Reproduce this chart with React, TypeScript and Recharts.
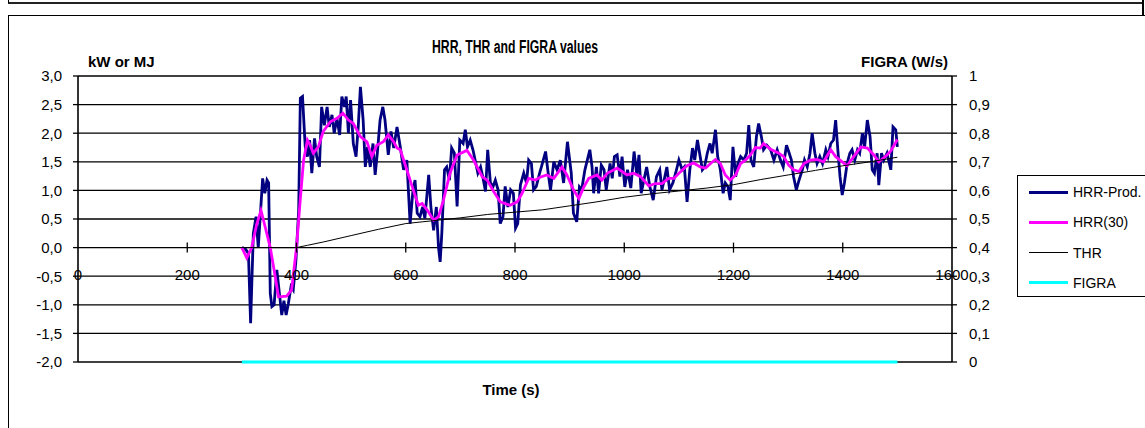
import React from 'react';
import { LineChart, Line, XAxis, YAxis, CartesianGrid } from 'recharts';

// ---------- data ----------
const hrrProd: [number, number][] = [
  [300, 0], [306, -0.02], [312, -0.1], [316, -1.32], [321, 0.25], [326, 0.54], [330, 0.0], [334, 0.6], [338, 1.21],
  [342, 0.95], [346, 1.18], [349, 1.13], [352, -0.8], [355, -1.03], [359, -1.0], [364, -0.39], [368, -0.74], [373, -1.18],
  [377, -0.93], [381, -1.18], [385, -0.98], [390, -0.68], [394, -0.74], [399, -0.22], [404, 0.66], [407, 2.61], [411, 2.64],
  [416, 1.76], [420, 1.59], [424, 1.88], [428, 1.3], [433, 1.91], [437, 1.59], [442, 1.41], [446, 2.46], [451, 2.14],
  [456, 2.46], [460, 2.11], [465, 2.32], [469, 2.0], [474, 2.26], [479, 1.97], [483, 2.64], [488, 2.46], [491, 2.64],
  [495, 2.0], [499, 2.58], [504, 1.82], [509, 1.59], [513, 2.11], [517, 2.81], [522, 2.23], [526, 1.41], [530, 1.76],
  [535, 1.41], [540, 1.82], [544, 1.27], [548, 1.65], [553, 2.23], [558, 2.46], [562, 2.23], [568, 1.62], [573, 2.03],
  [578, 1.74], [584, 2.11], [590, 1.76], [596, 1.36], [602, 1.53], [608, 0.42], [613, 0.98], [617, 1.18], [621, 0.6],
  [626, 0.54], [631, 0.71], [635, 0.51], [642, 1.27], [646, 0.71], [651, 0.3], [656, 0.71], [660, 0.0], [663, -0.25],
  [666, 0.25], [671, 1.36], [675, 1.41], [680, 1.18], [684, 1.74], [689, 1.65], [694, 0.72], [699, 1.88], [705, 1.82],
  [709, 2.06], [713, 1.76], [718, 1.88], [723, 1.71], [727, 1.53], [732, 1.3], [737, 1.41], [741, 1.24], [746, 0.98],
  [750, 1.71], [755, 1.13], [760, 1.07], [764, 1.18], [769, 1.01], [773, 0.42], [778, 0.54], [782, 1.07], [787, 0.71],
  [792, 1.01], [797, 0.95], [801, 0.34], [805, 0.42], [810, 1.1], [816, 1.3], [821, 1.13], [825, 1.53], [830, 1.47],
  [834, 1.01], [839, 1.07], [845, 1.3], [850, 1.47], [856, 1.68], [860, 1.36], [865, 1.0], [871, 1.5], [877, 1.36],
  [883, 1.53], [889, 1.13], [896, 1.85], [903, 1.3], [907, 0.6], [913, 0.45], [918, 1.06], [922, 1.01], [928, 1.36],
  [937, 1.71], [941, 1.41], [944, 0.95], [949, 1.41], [953, 0.95], [958, 1.44], [963, 1.36], [967, 1.01], [974, 1.47],
  [978, 1.21], [982, 1.59], [987, 1.62], [992, 1.24], [996, 1.59], [1001, 1.06], [1006, 1.36], [1012, 1.04], [1018, 1.68],
  [1023, 1.27], [1027, 1.62], [1031, 0.95], [1036, 1.18], [1041, 1.41], [1047, 1.06], [1053, 0.83], [1059, 1.24],
  [1065, 1.36], [1069, 1.01], [1073, 1.18], [1078, 1.41], [1083, 1.01], [1089, 1.13], [1094, 1.3], [1100, 1.53],
  [1106, 1.36], [1110, 1.41], [1115, 0.8], [1120, 1.36], [1125, 1.74], [1129, 1.53], [1134, 1.88], [1138, 1.65],
  [1143, 1.36], [1147, 1.41], [1152, 1.65], [1157, 1.82], [1161, 1.65], [1167, 2.06], [1171, 1.59], [1176, 1.36],
  [1181, 0.95], [1185, 1.13], [1190, 1.06], [1194, 0.83], [1199, 1.76], [1204, 1.24], [1208, 1.47], [1213, 1.59],
  [1219, 1.53], [1224, 1.65], [1228, 2.14], [1232, 1.53], [1237, 1.41], [1242, 1.94], [1246, 2.17], [1251, 1.94],
  [1255, 1.71], [1261, 1.79], [1268, 1.71], [1274, 1.53], [1280, 1.71], [1286, 1.53], [1291, 1.41], [1297, 1.79],
  [1301, 1.68], [1306, 1.53], [1310, 1.24], [1315, 1.01], [1320, 1.18], [1326, 1.36], [1330, 1.53], [1335, 1.41],
  [1340, 1.65], [1344, 2.0], [1349, 1.65], [1353, 1.47], [1358, 1.59], [1363, 1.47], [1369, 1.71], [1373, 1.59],
  [1378, 1.82], [1383, 1.88], [1387, 2.23], [1391, 1.71], [1395, 1.24], [1399, 0.92], [1403, 1.13], [1408, 1.47],
  [1413, 1.65], [1417, 1.71], [1422, 1.53], [1427, 1.71], [1431, 1.65], [1436, 2.0], [1440, 1.76], [1445, 2.23],
  [1450, 1.94], [1454, 1.36], [1458, 1.3], [1463, 1.65], [1466, 1.09], [1471, 1.65], [1475, 1.53], [1481, 1.65],
  [1488, 1.36], [1492, 2.11], [1497, 2.06], [1500, 1.76],
];

const hrr30: [number, number][] = [
  [300, 0], [309, -0.18], [318, 0.0], [327, 0.4], [335, 0.65], [343, 0.35], [352, 0.0], [360, -0.45], [367, -0.86],
  [382, -0.85], [391, -0.74], [400, 0.0], [407, 0.85], [413, 1.53], [420, 1.88], [425, 1.79], [431, 1.65], [440, 1.76],
  [449, 2.03], [462, 2.2], [474, 2.26], [485, 2.35], [495, 2.23], [504, 2.17], [517, 1.94], [529, 1.85], [538, 1.59],
  [547, 1.79], [559, 1.85], [568, 1.97], [578, 1.85], [584, 1.74], [590, 1.71], [602, 1.36], [614, 1.0], [623, 0.74],
  [630, 0.77], [639, 0.66], [651, 0.48], [660, 0.54], [669, 0.83], [681, 1.3], [694, 1.62], [712, 1.7], [724, 1.53],
  [740, 1.24], [749, 1.18], [761, 0.98], [773, 0.8], [791, 0.74], [804, 0.8], [813, 0.95], [825, 1.21], [837, 1.18],
  [846, 1.23], [858, 1.27], [871, 1.21], [886, 1.41], [895, 1.27], [907, 1.01], [917, 0.86], [926, 1.06], [935, 1.21],
  [950, 1.27], [959, 1.18], [969, 1.3], [987, 1.39], [1005, 1.27], [1017, 1.3], [1030, 1.24], [1045, 1.08], [1057, 1.12],
  [1069, 1.12], [1081, 1.21], [1091, 1.21], [1100, 1.3], [1115, 1.43], [1127, 1.48], [1139, 1.41], [1149, 1.39],
  [1158, 1.47], [1167, 1.54], [1176, 1.47], [1185, 1.27], [1194, 1.18], [1204, 1.27], [1213, 1.47], [1222, 1.53],
  [1231, 1.62], [1240, 1.75], [1249, 1.74], [1255, 1.82], [1268, 1.72], [1283, 1.65], [1292, 1.59], [1301, 1.44],
  [1310, 1.36], [1320, 1.33], [1329, 1.47], [1341, 1.53], [1353, 1.54], [1365, 1.5], [1378, 1.71], [1387, 1.59],
  [1399, 1.5], [1408, 1.43], [1420, 1.59], [1433, 1.76], [1445, 1.74], [1457, 1.62], [1466, 1.5], [1478, 1.59],
  [1488, 1.69], [1500, 1.89],
];

const thr: [number, number][] = [
  [300, 0], [400, 0], [420, 0.04], [450, 0.1], [500, 0.21], [550, 0.32], [600, 0.42], [650, 0.47], [700, 0.52],
  [750, 0.58], [800, 0.62], [850, 0.66], [900, 0.73], [950, 0.8], [1000, 0.88], [1050, 0.94], [1100, 0.99],
  [1150, 1.04], [1200, 1.1], [1250, 1.19], [1300, 1.27], [1350, 1.35], [1400, 1.43], [1450, 1.5], [1500, 1.58],
];

const figra: [number, number][] = [[300, 0], [1500, 0]];

const xTicks = [0, 200, 400, 600, 800, 1000, 1200, 1400, 1600];
const leftTicks = [-2, -1.5, -1, -0.5, 0, 0.5, 1, 1.5, 2, 2.5, 3];
const rightTicks = [0, 0.1, 0.2, 0.3, 0.4, 0.5, 0.6, 0.7, 0.8, 0.9, 1];

const seriesNames = ['HRR-Prod.', 'HRR(30)', 'THR', 'FIGRA'];
const seriesColors = ['#000080', '#FF00FF', '#000000', '#00FFFF'];
const seriesWidths = [3, 3, 1, 3];

const titleText = 'HRR, THR and FIGRA values';
const leftUnit = 'kW or MJ';
const rightUnit = 'FIGRA (W/s)';
const xTitle = 'Time (s)';

// ---------- layout ----------
const W = 1145;
const H = 428;
const PLOT_LEFT = 78;
const PLOT_RIGHT = 952;
const PLOT_TOP = 76;
const PLOT_BOTTOM = 362;
const Y_AXIS_W = 60;
const X_AXIS_H = 1;
const Y_MIN = -2;
const Y_MAX = 3;
const FONT = '"Liberation Sans", Arial, sans-serif';

const toRows = (arr: [number, number][]) => arr.map(([t, v]) => ({ t, v }));

const commaFmt = (v: number) => v.toFixed(1).replace('.', ',');
const rightFmt = (v: number) => (v === 0 || v === 1 ? String(v) : v.toFixed(1).replace('.', ','));

const XTick = (props: any) => {
  const { x, payload } = props;
  const y0 = PLOT_TOP + ((PLOT_BOTTOM - PLOT_TOP) * (Y_MAX - 0)) / (Y_MAX - Y_MIN);
  const val = payload.value;
  return (
    <g>
      {val > 0 && val < 1600 && (
        <line x1={x} x2={x} y1={y0 - 5} y2={y0 + 5} stroke="#000" strokeWidth={1.3} />
      )}
      <text x={x} y={y0 + 32} textAnchor="middle" fontSize={15} fill="#000" fontFamily={FONT}>
        {val}
      </text>
    </g>
  );
};

const Legend = () => (
  <div
    style={{
      position: 'absolute',
      left: 1017,
      top: 175,
      width: 140,
      height: 122,
      border: '1px solid #000',
      boxSizing: 'border-box',
      background: '#fff',
    }}
  >
    {seriesNames.map((n, i) => (
      <div
        key={n}
        style={{ position: 'absolute', left: 11, top: 6 + i * 30.3, height: 20, display: 'flex', alignItems: 'center' }}
      >
        <div style={{ width: 39, height: seriesWidths[i], background: seriesColors[i] }} />
        <span style={{ marginLeft: 5, fontSize: 14, fontFamily: FONT, color: '#000', whiteSpace: 'nowrap' }}>{n}</span>
      </div>
    ))}
  </div>
);

export default function App() {
  return (
    <div
      style={{
        position: 'absolute',
        left: 0,
        top: 0,
        width: W,
        height: H,
        overflow: 'hidden',
        background: '#fff',
        fontFamily: FONT,
      }}
    >
      {/* frame lines */}
      <div style={{ position: 'absolute', left: 8, top: 2, width: 1136, height: 0, borderTop: '2px solid #222' }} />
      <div style={{ position: 'absolute', left: 8, top: 0, width: 0, height: 3, borderLeft: '1px solid #000' }} />
      <div style={{ position: 'absolute', left: 1142, top: 0, width: 0, height: 16, borderLeft: '2px solid #000' }} />
      <div style={{ position: 'absolute', left: 8, top: 15, width: 1140, height: 430, border: '1px solid #000', boxSizing: 'border-box' }} />

      <div style={{ position: 'absolute', left: 0, top: 0 }}>
        <LineChart
          width={W}
          height={H}
          margin={{
            top: PLOT_TOP,
            left: PLOT_LEFT - Y_AXIS_W,
            right: W - PLOT_RIGHT - Y_AXIS_W,
            bottom: H - PLOT_BOTTOM - X_AXIS_H,
          }}
        >
          <CartesianGrid yAxisId="left" horizontal vertical={false} stroke="#000" strokeWidth={1.3} strokeOpacity={1} />
          <XAxis
            dataKey="t"
            type="number"
            domain={[0, 1600]}
            ticks={xTicks}
            height={X_AXIS_H}
            axisLine={false}
            tickLine={false}
            tick={<XTick />}
            interval={0}
          />
          <YAxis
            yAxisId="left"
            orientation="left"
            width={Y_AXIS_W}
            domain={[Y_MIN, Y_MAX]}
            ticks={leftTicks}
            tickFormatter={commaFmt}
            interval={0}
            tickSize={5}
            tickMargin={11}
            axisLine={{ stroke: '#000', strokeWidth: 1.6 }}
            tickLine={{ stroke: '#000', strokeWidth: 1.3 }}
            tick={{ fontSize: 15, fill: '#000', fontFamily: FONT }}
          />
          <YAxis
            yAxisId="right"
            orientation="right"
            width={Y_AXIS_W}
            domain={[0, 1]}
            ticks={rightTicks}
            tickFormatter={rightFmt}
            interval={0}
            tickSize={5}
            tickMargin={12}
            axisLine={{ stroke: '#000', strokeWidth: 1.6 }}
            tickLine={{ stroke: '#000', strokeWidth: 1.3 }}
            tick={{ fontSize: 15, fill: '#000', fontFamily: FONT, textAnchor: 'start' }}
          />
          <Line
            yAxisId="left"
            data={toRows(hrrProd)}
            dataKey="v"
            name={seriesNames[0]}
            stroke={seriesColors[0]}
            strokeWidth={2.8}
            dot={false}
            activeDot={false}
            isAnimationActive={false}
          />
          <Line
            yAxisId="left"
            data={toRows(hrr30)}
            dataKey="v"
            name={seriesNames[1]}
            stroke={seriesColors[1]}
            strokeWidth={2.8}
            dot={false}
            activeDot={false}
            isAnimationActive={false}
          />
          <Line
            yAxisId="left"
            data={toRows(thr)}
            dataKey="v"
            name={seriesNames[2]}
            stroke={seriesColors[2]}
            strokeWidth={1}
            dot={false}
            activeDot={false}
            isAnimationActive={false}
          />
          <Line
            yAxisId="right"
            data={toRows(figra)}
            dataKey="v"
            name={seriesNames[3]}
            stroke={seriesColors[3]}
            strokeWidth={3}
            dot={false}
            activeDot={false}
            isAnimationActive={false}
          />
          <text x={515} y={53} textAnchor="middle" fontSize={18} fontWeight="bold" fontFamily={FONT} fill="#000" textLength={166} lengthAdjust="spacingAndGlyphs">
            {titleText}
          </text>
          <text x={88} y={67} fontSize={15} fontWeight="bold" fontFamily={FONT} fill="#000">
            {leftUnit}
          </text>
          <text x={948} y={67} textAnchor="end" fontSize={15} fontWeight="bold" fontFamily={FONT} fill="#000">
            {rightUnit}
          </text>
          <text x={511} y={395} textAnchor="middle" fontSize={15} fontWeight="bold" fontFamily={FONT} fill="#000">
            {xTitle}
          </text>
        </LineChart>
      </div>
      <Legend />
    </div>
  );
}
